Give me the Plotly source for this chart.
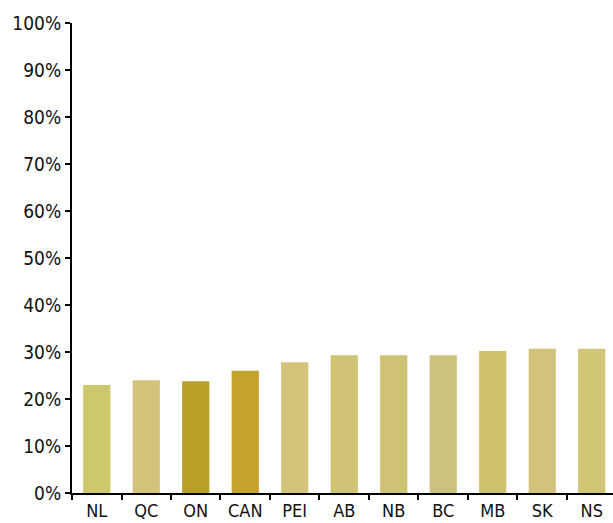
import plotly.graph_objects as go

categories = ["NL", "QC", "ON", "CAN", "PEI", "AB", "NB", "BC", "MB", "SK", "NS"]
values = [23.0, 24.0, 23.8, 26.0, 27.8, 29.3, 29.3, 29.3, 30.2, 30.7, 30.7]
bar_colors = ["#cdc86c", "#d3c47a", "#b9a028", "#c4a22e", "#d4c47a",
              "#d0c274", "#d0c274", "#cec17c", "#cec26e", "#d2c27a", "#d0c676"]
y_ticks = [0, 10, 20, 30, 40, 50, 60, 70, 80, 90, 100]
y_labels = [f"{v}%" for v in y_ticks]

font_family = "DejaVu Sans Condensed, Liberation Sans Narrow, sans-serif"

fig = go.Figure(go.Bar(
    x=categories, y=values, marker=dict(color=bar_colors, line=dict(width=0)),
    width=0.55, hoverinfo="skip"))

fig.update_layout(
    width=613, height=523,
    margin=dict(l=72, r=0, t=23, b=30),
    paper_bgcolor="white", plot_bgcolor="white",
    showlegend=False,
    font=dict(family=font_family, size=19, color="#111111"),
)
fig.update_xaxes(
    range=[-0.5, 10.43], showline=True, linecolor="black", linewidth=2,
    ticks="outside", tickson="boundaries", ticklen=5, tickwidth=2, tickcolor="black",
    showgrid=False, tickfont=dict(family=font_family, size=18, color="#111111"),
    fixedrange=True,
)
fig.update_yaxes(
    range=[0, 100], tickvals=y_ticks, ticktext=y_labels,
    showline=True, linecolor="black", linewidth=2,
    ticks="outside", ticklen=5, tickwidth=2, tickcolor="black",
    showgrid=False, zeroline=False,
    tickfont=dict(family=font_family, size=19, color="#111111"),
    fixedrange=True,
)

fig.write_html("out.html")
